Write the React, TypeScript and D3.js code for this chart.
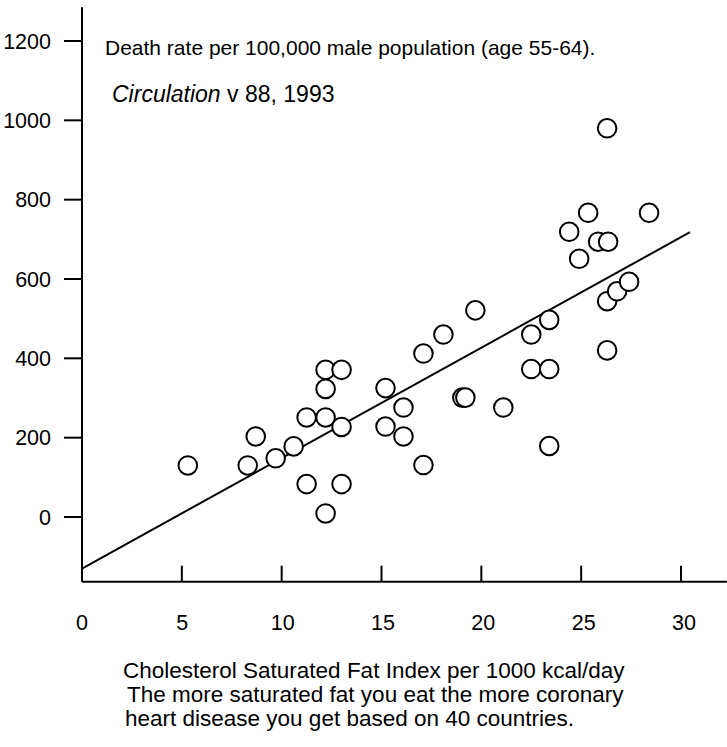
import React from 'react';
import * as d3 from 'd3';

const xTickValues = [0, 5, 10, 15, 20, 25, 30];
const yTickValues = [0, 200, 400, 600, 800, 1000, 1200];

const fatIndex = [
  5.3, 8.7, 8.3, 9.7, 10.6, 12.2, 13.0, 12.2, 11.25, 12.2, 13.0, 11.25, 13.0, 12.2,
  15.2, 16.1, 15.2, 16.1, 17.1, 17.1, 18.1, 19.7, 19.05, 19.2, 21.1, 22.5, 23.4,
  22.5, 23.4, 23.4, 26.3, 25.35, 28.4, 24.4, 25.85, 26.35, 24.9, 26.3, 26.8, 27.4, 26.3,
];
const deathRate = [
  130, 203, 130, 148, 178, 371, 371, 323, 251, 251, 227, 83, 83, 9,
  325, 276, 228, 203, 131, 412, 460, 521, 301, 301, 276, 460, 497,
  373, 373, 179, 980, 767, 767, 719, 694, 694, 651, 544, 569, 593, 420,
];

const fitLineX = [0, 30.45];
const fitLineY = [-130, 718];

const titleText = 'Death rate per 100,000 male population (age 55-64).';
const sourceItalic = 'Circulation';
const sourceRest = ' v 88, 1993';
const xLabelLines = [
  'Cholesterol Saturated Fat Index per 1000 kcal/day',
  'The more saturated fat you eat the more coronary',
  'heart disease you get based on 40 countries.',
];

const FONT = '"Liberation Sans", Arial, Helvetica, sans-serif';

export default function App() {
  const W = 727;
  const H = 747;
  const x = d3.scaleLinear().domain([0, 30]).range([82, 681]);
  const y = d3.scaleLinear().domain([0, 1200]).range([517, 41]);
  const xAxisMax = 32.3;
  const yAxisMin = -163;
  const yAxisMax = 1285;

  const fitPts: [number, number][] = fitLineX.map((v, i) => [v, fitLineY[i]]);
  const linePath = d3
    .line<[number, number]>()
    .x((d) => x(d[0]))
    .y((d) => y(d[1]))(fitPts);

  const x0 = x(0);
  const yBase = y(yAxisMin);
  const lineIndent = [123, 127, 125];

  return (
    <svg
      width={W}
      height={H}
      style={{ position: 'absolute', left: 0, top: 0, background: '#fff' }}
      fontFamily={FONT}
    >
      <rect x={0} y={0} width={W} height={H} fill="#fff" />
      {/* axes */}
      <line x1={x0} x2={x0} y1={y(yAxisMax)} y2={yBase} stroke="#000" strokeWidth={2} />
      <line x1={x0} x2={x(xAxisMax)} y1={yBase} y2={yBase} stroke="#000" strokeWidth={2} />
      {yTickValues.map((v) => (
        <g key={'y' + v}>
          <line x1={x0 - 18} x2={x0} y1={y(v)} y2={y(v)} stroke="#000" strokeWidth={2} />
          <text x={51} y={y(v)} dy="0.36em" textAnchor="end" fontSize={21.5} fill="#000">
            {v}
          </text>
        </g>
      ))}
      {xTickValues.map((v) => (
        <g key={'x' + v}>
          {v !== 0 && (
            <line x1={x(v)} x2={x(v)} y1={yBase - 16} y2={yBase} stroke="#000" strokeWidth={2} />
          )}
          <text x={x(v) + v * 0.1} y={630} textAnchor="middle" fontSize={21.5} fill="#000">
            {v}
          </text>
        </g>
      ))}
      {/* regression line */}
      <path d={linePath || ''} fill="none" stroke="#000" strokeWidth={2} />
      {/* points */}
      {fatIndex.map((fx, i) => (
        <circle
          key={'p' + i}
          cx={x(fx)}
          cy={y(deathRate[i])}
          r={9.3}
          fill="#fff"
          stroke="#000"
          strokeWidth={2}
        />
      ))}
      {/* annotations */}
      <text x={105} y={55} fontSize={21} fill="#000">
        {titleText}
      </text>
      <text x={112} y={102} fontSize={23} fill="#000">
        <tspan fontStyle="italic">{sourceItalic}</tspan>
        <tspan>{sourceRest}</tspan>
      </text>
      {xLabelLines.map((t, i) => (
        <text key={'l' + i} x={lineIndent[i]} y={678 + i * 24} fontSize={22.5} fill="#000">
          {t}
        </text>
      ))}
    </svg>
  );
}
